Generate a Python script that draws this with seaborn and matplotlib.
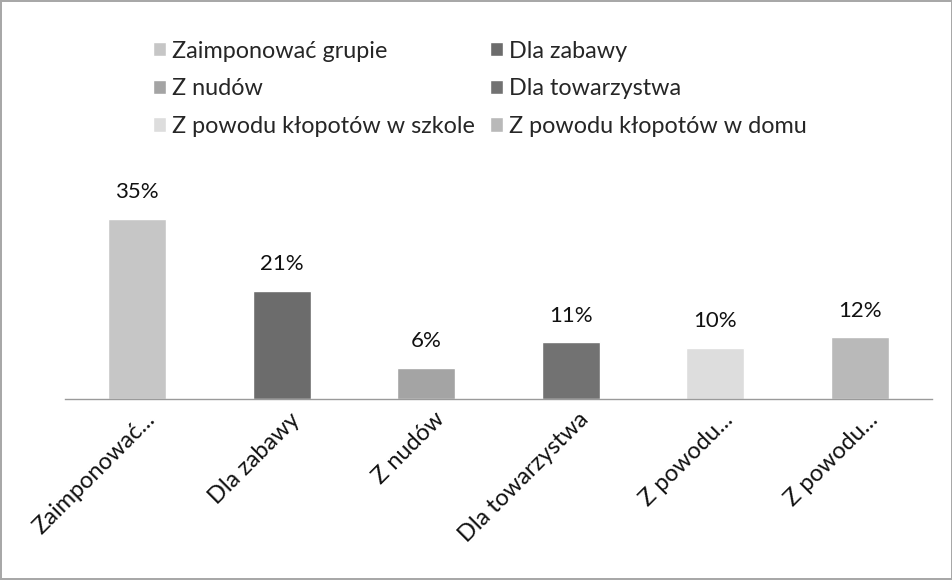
import seaborn as sns
import matplotlib.pyplot as plt
import matplotlib.transforms as mtransforms
import pandas as pd

categories = ['Zaimponować grupie', 'Dla zabawy', 'Z nudów', 'Dla towarzystwa',
              'Z powodu kłopotów w szkole', 'Z powodu kłopotów w domu']
tick_labels = ['Zaimponować...', 'Dla zabawy', 'Z nudów', 'Dla towarzystwa',
               'Z powodu...', 'Z powodu...']
values = [35, 21, 6, 11, 10, 12]
colors = ['#c6c6c6', '#6c6c6c', '#a4a4a4', '#727272', '#dddddd', '#b9b9b9']

data = pd.DataFrame({'Powód': categories, 'Procent': values})

sns.set_theme(style='white')
plt.rcParams['font.family'] = ['Lato', 'DejaVu Sans']

fig = plt.figure(figsize=(9.53, 5.80), dpi=100)
ax = fig.add_axes([0.0682, 0.312, 0.9098, 0.355])

sns.barplot(data=data, x='Powód', y='Procent', hue='Powód',
            palette=dict(zip(categories, colors)), width=0.4,
            dodge=False, legend=True, ax=ax)

for c in ax.containers:
    ax.bar_label(c, labels=[f'{v:.0f}%' for v in c.datavalues],
                 padding=12, fontsize=16, color='#111111')

ax.set_ylim(0, 40)
ax.set_xlim(-0.5, 5.5)
ax.set_yticks([])
ax.set_xlabel('')
ax.set_ylabel('')
for s in ['top', 'right', 'left']:
    ax.spines[s].set_visible(False)
ax.spines['bottom'].set_color('#9a9a9a')
ax.spines['bottom'].set_linewidth(1)

ax.set_xticks(range(len(tick_labels)))
ax.set_xticklabels(tick_labels, rotation=45, ha='right', fontsize=17, color='#111111')
ax.tick_params(axis='x', length=0, pad=7)
offset = mtransforms.ScaledTranslation(0.22, 0, fig.dpi_scale_trans)
for lbl in ax.get_xticklabels():
    lbl.set_transform(lbl.get_transform() + offset)

# legend filled row by row, two columns
handles, labels = ax.get_legend_handles_labels()
order = [0, 2, 4, 1, 3, 5]
ax.get_legend().remove()
fig.legend([handles[i] for i in order], [labels[i] for i in order],
           loc='upper left', bbox_to_anchor=(0.1605, 0.930),
           ncol=2, frameon=False, fontsize=16.8,
           handlelength=0.56, handleheight=0.56, handletextpad=0.26,
           labelspacing=0.71, columnspacing=0.64,
           borderpad=0, borderaxespad=0)

fig.patch.set_edgecolor('#a8a8a8')
fig.patch.set_linewidth(1.5)

fig.savefig('out.png', dpi=100)
